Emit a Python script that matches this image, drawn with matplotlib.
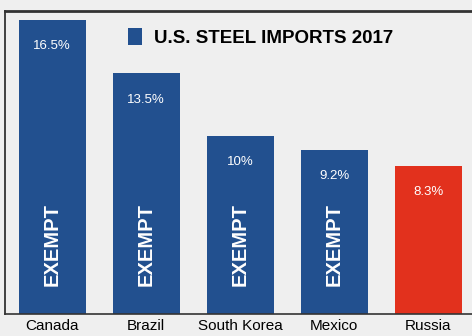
import matplotlib.pyplot as plt
from matplotlib.patches import Patch

countries = ["Canada", "Brazil", "South Korea", "Mexico", "Russia"]
shares = [16.5, 13.5, 10.0, 9.2, 8.3]
share_labels = ["16.5%", "13.5%", "10%", "9.2%", "8.3%"]
exempt = [True, True, True, True, False]

BLUE = "#22508f"
RED = "#e2311d"
BG = "#efefef"

plt.rcParams["font.family"] = ["Liberation Sans", "DejaVu Sans"]

fig = plt.figure(figsize=(4.72, 3.36), dpi=100, facecolor=BG)
ax = fig.add_axes([0.011, 0.066, 1.0, 0.901])
ax.set_facecolor(BG)

xs = list(range(len(countries)))
colors = [BLUE if e else RED for e in exempt]
ax.bar(xs, shares, width=0.71, color=colors, zorder=2)

for x, v, lab, e in zip(xs, shares, share_labels, exempt):
    ax.annotate(lab, (x, v), xytext=(0, -19), textcoords="offset points",
                ha="center", va="center", color="white", fontsize=9.5)
    if e:
        ax.text(x, 3.9, "EXEMPT", rotation=90, ha="center", va="center",
                color="white", fontsize=14.5, fontweight="bold")

ax.set_xlim(-0.5, 4.52)
ax.set_ylim(0, 17)
ax.set_xticks(xs)
ax.set_xticklabels(countries, fontsize=11)
ax.tick_params(axis="x", length=0, pad=4)
ax.set_yticks([])

ax.spines["right"].set_visible(False)
ax.spines["top"].set_linewidth(2)
ax.spines["top"].set_color("#333333")
ax.spines["left"].set_linewidth(1.3)
ax.spines["left"].set_color("#333333")
ax.spines["bottom"].set_linewidth(1.2)
ax.spines["bottom"].set_color("#333333")

handle = Patch(facecolor=BLUE, edgecolor="none")
leg = ax.legend([handle], ["U.S. STEEL IMPORTS 2017"], loc="upper left",
                bbox_to_anchor=(0.225, 1.0), frameon=False,
                handlelength=0.75, handleheight=1.05, handletextpad=0.6,
                prop={"size": 13.5, "weight": "bold"})

fig.savefig("out.png", dpi=100, facecolor=BG)
